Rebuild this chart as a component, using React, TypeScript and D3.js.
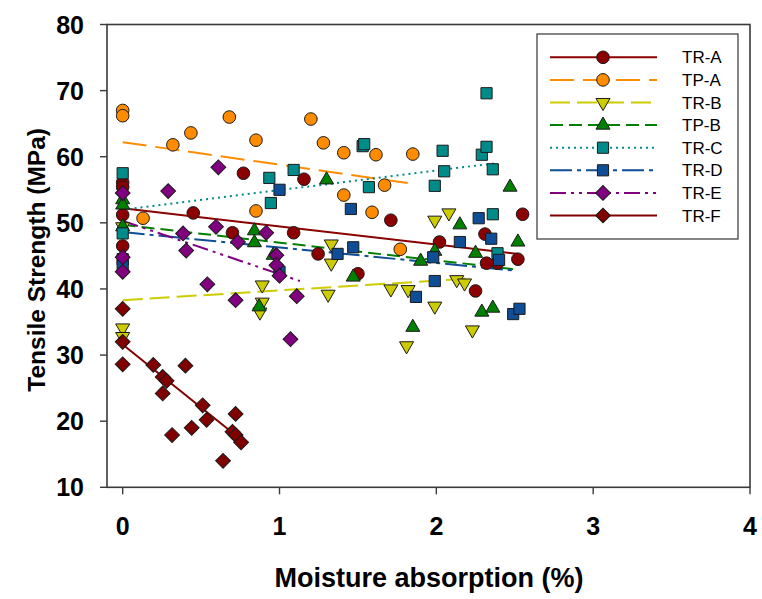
import React from "react";
import * as d3 from "d3";

type P = [number, number];

const TR_A: P[] = [
  [0, 56.1], [0, 55.4], [0, 51.2], [0, 46.5], [0.45, 51.5], [0.7, 48.5], [0.77, 57.5],
  [1.09, 48.5], [1.156, 56.6], [1.246, 45.3], [1.5, 42.3], [1.71, 50.4], [2.02, 47.1],
  [2.25, 39.7], [2.31, 48.3], [2.32, 43.9], [2.39, 43.9], [2.52, 44.5], [2.55, 51.3],
];
const TP_A: P[] = [
  [0, 67.0], [0, 66.2], [0.13, 50.7], [0.32, 61.8], [0.435, 63.6], [0.68, 66.0], [0.85, 62.5],
  [0.85, 51.8], [1.2, 65.7], [1.28, 62.1], [1.41, 60.6], [1.41, 54.2], [1.59, 51.6],
  [1.615, 60.3], [1.67, 55.7], [1.77, 46.0], [1.85, 60.4],
];
const TR_B: P[] = [
  [0, 49.4], [0, 34.1], [0, 32.8], [0.875, 36.5], [0.89, 40.6], [0.89, 38.0], [1.31, 39.2],
  [1.33, 46.8], [1.33, 43.9], [1.71, 40.0], [1.81, 31.4], [1.82, 39.9], [1.99, 37.4],
  [1.99, 50.4], [2.08, 51.5], [2.13, 41.4], [2.18, 40.9], [2.23, 33.8],
];
const TP_B: P[] = [
  [0, 53.5], [0, 52.7], [0, 49.4], [0.84, 48.8], [0.84, 47.0], [0.87, 37.3], [0.96, 45.1],
  [1.3, 56.5], [1.47, 41.8], [1.85, 34.2], [1.9, 44.2], [1.99, 45.7], [2.15, 49.7],
  [2.25, 45.4], [2.29, 36.5], [2.36, 37.1], [2.47, 55.4], [2.52, 47.1],
];
const TR_C: P[] = [
  [0, 57.5], [0, 48.4], [0.935, 56.8], [0.945, 53.0], [1.09, 58.0], [1.53, 61.6], [1.54, 61.9],
  [1.57, 55.4], [1.99, 55.6], [2.04, 60.9], [2.05, 57.8], [2.29, 60.3], [2.32, 69.6],
  [2.32, 61.5], [2.36, 58.1], [2.36, 51.3], [2.39, 45.4],
];
const TR_D: P[] = [
  [0, 44.5], [0, 43.5], [1.0, 55.0], [1.0, 42.6], [1.37, 45.3], [1.455, 52.1], [1.47, 46.3],
  [1.87, 38.8], [1.98, 44.8], [1.99, 41.2], [2.15, 47.1], [2.27, 50.7], [2.35, 47.6],
  [2.4, 44.4], [2.49, 36.2], [2.53, 37.0],
];
const TR_E: P[] = [
  [0, 54.5], [0, 44.8], [0, 42.6], [0.29, 54.8], [0.385, 48.4], [0.405, 45.8], [0.54, 40.7],
  [0.595, 49.4], [0.61, 58.4], [0.72, 38.3], [0.735, 47.1], [0.915, 48.5], [0.98, 45.1],
  [0.98, 43.6], [1.0, 42.0], [1.07, 32.4], [1.11, 38.9],
];
const TR_F: P[] = [
  [0, 37.0], [0, 32.0], [0, 28.6], [0.195, 28.5], [0.255, 26.7], [0.28, 26.1], [0.255, 24.2],
  [0.315, 17.9], [0.4, 28.4], [0.44, 19.0], [0.51, 22.4], [0.535, 20.2], [0.64, 14.0],
  [0.7, 18.4], [0.72, 21.1], [0.72, 17.9], [0.755, 16.8],
];

const FIT_TR_A: P[] = [[0, 52.2], [2.52, 45.3]];
const FIT_TP_A: P[] = [[0, 62.2], [1.85, 55.9]];
const FIT_TR_B: P[] = [[0, 38.3], [2.23, 41.6]];
const FIT_TP_B: P[] = [[0, 49.7], [2.49, 43.0]];
const FIT_TR_C: P[] = [[0, 52.0], [2.37, 59.0]];
const FIT_TR_D: P[] = [[0, 48.6], [2.49, 42.8]];
const FIT_TR_E: P[] = [[0, 50.3], [1.13, 41.2]];
const FIT_TR_F: P[] = [[0, 31.6], [0.75, 17.3]];

const NAMES = ["TR-A", "TP-A", "TR-B", "TP-B", "TR-C", "TR-D", "TR-E", "TR-F"];
const X_TICKS = [0, 1, 2, 3, 4];
const Y_TICKS = [10, 20, 30, 40, 50, 60, 70, 80];

type Shape = "circle" | "triDown" | "triUp" | "square" | "diamond";
const SERIES = [
  { name: NAMES[0], data: TR_A, fit: FIT_TR_A, color: "#8B0000", shape: "circle" as Shape, dash: "" },
  { name: NAMES[1], data: TP_A, fit: FIT_TP_A, color: "#FF8C00", shape: "circle" as Shape, dash: "24,9" },
  { name: NAMES[2], data: TR_B, fit: FIT_TR_B, color: "#CCCC00", shape: "triDown" as Shape, dash: "20,7" },
  { name: NAMES[3], data: TP_B, fit: FIT_TP_B, color: "#008000", shape: "triUp" as Shape, dash: "13,6" },
  { name: NAMES[4], data: TR_C, fit: FIT_TR_C, color: "#008B8B", shape: "square" as Shape, dash: "2,4" },
  { name: NAMES[5], data: TR_D, fit: FIT_TR_D, color: "#0F4D96", shape: "square" as Shape, dash: "22,5,4,5" },
  { name: NAMES[6], data: TR_E, fit: FIT_TR_E, color: "#800080", shape: "diamond" as Shape, dash: "16,5,3,5,3,5" },
  { name: NAMES[7], data: TR_F, fit: FIT_TR_F, color: "#800000", shape: "diamond" as Shape, dash: "" },
];

const symbolPath = (shape: Shape): string => {
  switch (shape) {
    case "circle":
      return d3.symbol(d3.symbolCircle, 125)()!;
    case "square":
      return d3.symbol(d3.symbolSquare, 125)()!;
    case "triUp":
      return d3.symbol(d3.symbolTriangle, 85)()!;
    case "triDown":
      return d3.symbol(d3.symbolTriangle, 85)()!;
    case "diamond":
      return d3.symbol(d3.symbolSquare, 110)()!;
  }
};
const symbolRot = (shape: Shape) => (shape === "triDown" ? 180 : shape === "diamond" ? 45 : 0);

const FONT = "'Liberation Sans', Arial, Helvetica, sans-serif";

export default function App() {
  const W = 762, H = 599;
  const x = d3.scaleLinear().domain([-0.1, 4]).range([107, 750]);
  const y = d3.scaleLinear().domain([10, 80]).range([487.3, 24.5]);
  const line = d3.line<P>().x((d) => x(d[0])).y((d) => y(d[1]));

  const legX0 = 537, legY0 = 34, legW = 201, legH = 205;
  const rowY = (i: number) => 57.3 + i * 22.6;

  return (
    <svg width={W} height={H} style={{ position: "absolute", left: 0, top: 0, background: "#fff" }}>
      <rect x={0} y={0} width={W} height={H} fill="#fff" />
      {/* frame */}
      <rect x={x(-0.1)} y={y(80)} width={x(4) - x(-0.1)} height={y(10) - y(80)} fill="none" stroke="#3a3a3a" strokeWidth={1.6} />
      {/* y ticks */}
      {Y_TICKS.map((t) => (
        <g key={"yt" + t}>
          <line x1={x(-0.1) - 7} x2={x(-0.1)} y1={y(t)} y2={y(t)} stroke="#3a3a3a" strokeWidth={1.4} />
          <text x={84} y={y(t)} dy="0.36em" textAnchor="end" fontFamily={FONT} fontWeight="bold" fontSize={25} fill="#000">
            {t}
          </text>
        </g>
      ))}
      {/* x ticks */}
      {X_TICKS.map((t) => (
        <g key={"xt" + t}>
          <line x1={x(t)} x2={x(t)} y1={y(10)} y2={y(10) + 7} stroke="#3a3a3a" strokeWidth={1.4} />
          <text x={x(t)} y={535} textAnchor="middle" fontFamily={FONT} fontWeight="bold" fontSize={25} fill="#000">
            {t}
          </text>
        </g>
      ))}
      <text x={429} y={587} textAnchor="middle" fontFamily={FONT} fontWeight="bold" fontSize={27} fill="#000">
        Moisture absorption (%)
      </text>
      <text
        transform={`translate(45,${(y(10) + y(80)) / 2 + 4}) rotate(-90)`}
        textAnchor="middle"
        fontFamily={FONT}
        fontWeight="bold"
        fontSize={24.5}
        fill="#000"
      >
        Tensile Strength (MPa)
      </text>
      {/* fit lines */}
      {SERIES.map((s) => (
        <path key={"fit" + s.name} d={line(s.fit)!} fill="none" stroke={s.color} strokeWidth={2} strokeDasharray={s.dash || undefined} />
      ))}
      {/* points */}
      {SERIES.map((s) => (
        <g key={"pts" + s.name}>
          {s.data.map((d, i) => (
            <path
              key={i}
              d={symbolPath(s.shape)}
              transform={`translate(${x(d[0])},${y(d[1])}) rotate(${symbolRot(s.shape)})`}
              fill={s.color}
              stroke="#1a1a1a"
              strokeWidth={1}
            />
          ))}
        </g>
      ))}
      {/* legend */}
      <rect x={legX0} y={legY0} width={legW} height={legH} fill="#fff" stroke="#444" strokeWidth={1.3} />
      {SERIES.map((s, i) => (
        <g key={"leg" + s.name}>
          <line x1={550} x2={657} y1={rowY(i)} y2={rowY(i)} stroke={s.color} strokeWidth={2} strokeDasharray={s.dash || undefined} />
          <path
            d={symbolPath(s.shape)}
            transform={`translate(603,${rowY(i)}) rotate(${symbolRot(s.shape)})`}
            fill={s.color}
            stroke="#1a1a1a"
            strokeWidth={1}
          />
          <text x={682} y={rowY(i)} dy="0.36em" fontFamily={FONT} fontSize={17} fill="#000">
            {s.name}
          </text>
        </g>
      ))}
    </svg>
  );
}
